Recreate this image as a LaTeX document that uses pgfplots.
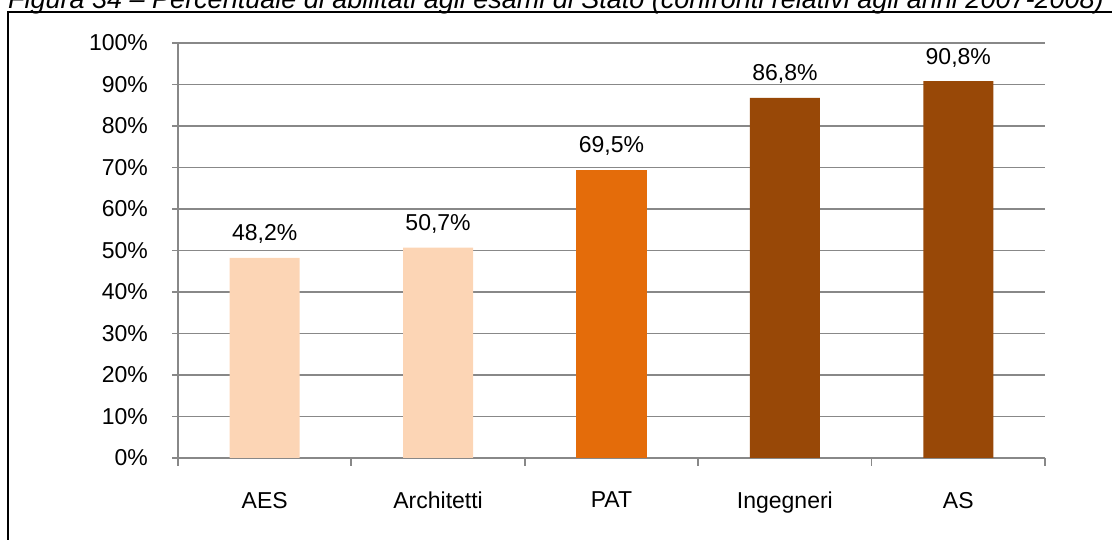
\documentclass[border=0pt]{standalone}
\usepackage{pgfplots}
\pgfplotsset{compat=1.18}
\usepackage{fontspec}
\setmainfont{Liberation Sans}

\definecolor{peach}{HTML}{FCD5B5}
\definecolor{orangebar}{HTML}{E46C0A}
\definecolor{brownbar}{HTML}{984807}
\definecolor{gridgray}{HTML}{888888}

\begin{document}
\fontsize{11.5}{13.5}\selectfont
\begin{tikzpicture}[x=0.5pt,y=0.5pt]
\useasboundingbox (0,0) rectangle (1115,540);
\clip (0,0) rectangle (1115,540);

% title (partly cut at the top)
\node[anchor=base,font=\itshape\fontsize{13.5}{15}\selectfont,inner sep=0pt] at (556,531)
  {Figura 34 -- Percentuale di abilitati agli esami di Stato (confronti relativi agli anni 2007-2008)};

% frame
\draw[line width=1pt] (8,0) -- (8,528) -- (1112,528);

\begin{axis}[
  at={(89pt,41pt)}, anchor=south west,
  scale only axis, width=433.5pt, height=207.5pt,
  xmin=-0.5, xmax=4.5, ymin=0, ymax=100,
  axis x line*=bottom, axis y line*=left,
  axis line style={gridgray, line width=0.9pt, -},
  xtick={0,1,2,3,4},
  xticklabels={AES,Architetti,PAT,Ingegneri,AS},
  major x tick style={draw=none},
  minor xtick={-0.5,0.5,1.5,2.5,3.5,4.5},
  minor x tick style={gridgray, line width=0.9pt},
  minor tick length=4pt,
  x tick label style={yshift=-10pt},
  ytick={0,10,...,100},
  yticklabel={\pgfmathprintnumber{\tick}\%},
  y tick style={gridgray, line width=0.9pt},
  major tick length=3pt,
  tick align=outside,
  ymajorgrids, grid style={gridgray, line width=0.8pt},
  y tick label style={xshift=-8pt},
  /pgf/number format/assume math mode=true,
  ybar, bar width=0.404, bar shift=0pt,
  nodes near coords={\pgfmathprintnumber[fixed,fixed zerofill,precision=1,use comma,assume math mode=true]{\pgfplotspointmeta}\%},
  every node near coord/.append style={anchor=base, yshift=8.5pt, inner sep=0pt, text=black},
  clip=false,
]
\addplot[fill=peach, draw=none] coordinates {(0,48.2) (1,50.7)};
\addplot[fill=orangebar, draw=none] coordinates {(2,69.5)};
\addplot[fill=brownbar, draw=none] coordinates {(3,86.8) (4,90.8)};
\end{axis}
\end{tikzpicture}
\end{document}
